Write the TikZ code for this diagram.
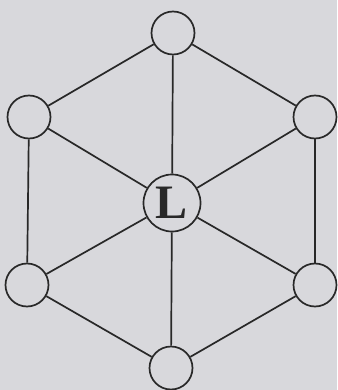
\documentclass[tikz,border=0pt]{standalone}
\usepackage{fontspec}
\setmainfont{Liberation Serif}
\definecolor{bg}{RGB}{216,216,220}
\definecolor{ink}{RGB}{40,40,40}
\tikzset{
  outer/.style={circle,draw=ink,line width=1.7pt,minimum size=43pt,inner sep=0pt},
  hub/.style={circle,draw=ink,line width=1.7pt,minimum size=57pt,inner sep=0pt,font=\fontsize{48}{48}\selectfont\bfseries,text=ink},
  edge/.style={draw=ink,line width=1.7pt}
}
\begin{document}
\begin{tikzpicture}[x=1pt,y=-1pt]
\fill[bg] (0,0) rectangle (337,390);
\useasboundingbox (0,0) rectangle (337,390);
\node[hub] (c) at (172,203) {\raisebox{-1pt}{L}};
\node[outer] (t) at (173,33) {};
\node[outer] (ul) at (29,117) {};
\node[outer] (ur) at (315,117) {};
\node[outer] (ll) at (27,285) {};
\node[outer] (lr) at (315,285) {};
\node[outer] (b) at (171,368) {};
\foreach \n in {t,ul,ur,ll,lr,b} \draw[edge] (c) -- (\n);
\draw[edge] (t) -- (ul);
\draw[edge] (t) -- (ur);
\draw[edge] (ul) -- (ll);
\draw[edge] (ur) -- (lr);
\draw[edge] (ll) -- (b);
\draw[edge] (lr) -- (b);
\end{tikzpicture}
\end{document}
